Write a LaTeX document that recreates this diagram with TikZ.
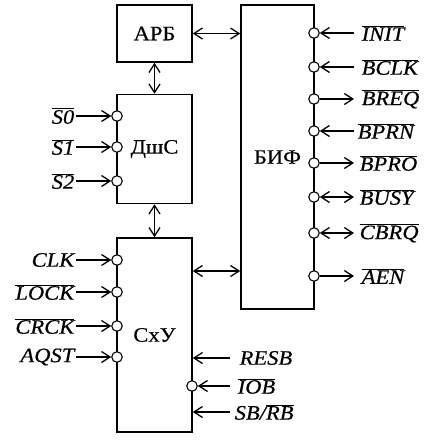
\documentclass[tikz,border=0pt]{standalone}
\usepackage{fontspec}
\setmainfont{Liberation Serif}[FakeStretch=1.1, FakeBold=0.4]
\usetikzlibrary{arrows.meta}
\newcommand{\ovl}[1]{$\overline{\mbox{\itshape #1}}$}
\begin{document}
\begin{tikzpicture}[x=1pt,y=-1pt,
  font=\fontsize{20.5}{24}\selectfont,
  blk/.style={draw, line width=1.6pt, inner sep=0pt},
  pinc/.style={circle, draw, fill=white, line width=1.1pt, minimum size=10.5pt, inner sep=0pt},
  lbl/.style={inner sep=1.5pt, font=\fontsize{20.5}{24}\selectfont\itshape},
  tip/.tip={Straight Barb[length=8.5pt,width=11pt,line width=1.3pt]},
  sig/.style={line width=1.1pt, -tip},
  sigb/.style={line width=1.1pt, tip-tip},
  bus/.style={line width=1.6pt, tip-tip}]
\useasboundingbox (0,0) rectangle (442,440);
% blocks
\node[blk, minimum width=75pt, minimum height=57pt] (arb) at (154.5,33.5) {АРБ};
\node[blk, minimum width=75pt, minimum height=109pt] (dsh) at (154.5,149) {ДшС};
\node[blk, minimum width=75pt, minimum height=194pt] (sxu) at (154.5,335) {СхУ};
\node[blk, minimum width=73pt, minimum height=304pt] (bif) at (277.5,157) {БИФ};
% buses
\draw[bus] (arb.east) -- (bif.west |- arb.east);
\draw[bus] (arb.south) -- (dsh.north);
\draw[bus] (dsh.south) -- (sxu.north);
\draw[bus] (sxu.east |- 0,271) -- (bif.west |- 0,271);
% DshC inputs
\foreach \n/\t/\y in {s0/S0/116, s1/S1/147, s2/S2/181}{
  \node[pinc] (c\n) at (117,\y) {};
  \node[lbl, anchor=east] (l\n) at (76,\y) {\ovl{\t}};
  \draw[sig] (l\n.east) -- (c\n.west);
}
% SxU inputs
\node[pinc] (cclk) at (117,260) {};
\node[lbl, anchor=east] (lclk) at (76,260) {CLK};
\draw[sig] (lclk.east) -- (cclk.west);
\node[pinc] (clock) at (117,292) {};
\node[lbl, anchor=east] (llock) at (76,292) {\ovl{LOCK}};
\draw[sig] (llock.east) -- (clock.west);
\node[pinc] (ccrck) at (117,326) {};
\node[lbl, anchor=east] (lcrck) at (76,326) {\ovl{CRCK}};
\draw[sig] (lcrck.east) -- (ccrck.west);
\node[pinc] (caqst) at (117,357) {};
\node[lbl, anchor=east] (laqst) at (76,357) {AQST};
\draw[sig] (laqst.east) -- (caqst.west);
% SxU right inputs
\node[lbl, anchor=west] (lresb) at (230,358) {\hspace{8pt}RESB};
\draw[sig] (lresb.west) -- (sxu.east |- lresb.west);
\node[pinc] (ciob) at (192,386) {};
\node[lbl, anchor=west] (liob) at (230,386) {\hspace{6pt}\ovl{IOB}};
\draw[sig] (liob.west) -- (ciob.east);
\node[lbl, anchor=west] (lsbrb) at (230,412) {\hspace{3pt}SB/\ovl{RB}};
\draw[sig] (lsbrb.west) -- (sxu.east |- lsbrb.west);
% BIF pins
\foreach \n/\y in {init/33, bclk/67, breq/99, bprn/131, bpro/163, busy/197, cbrq/233, aen/276}{
  \node[pinc] (c\n) at (314,\y) {};
}
\node[lbl, anchor=west] (linit) at (354,33) {\hspace{6pt}\ovl{INIT}};
\node[lbl, anchor=west] (lbclk) at (354,67) {\hspace{6pt}\ovl{BCLK}};
\node[lbl, anchor=west] (lbreq) at (354,99) {\hspace{6pt}\ovl{BREQ}};
\node[lbl, anchor=west] (lbprn) at (354,131) {\hspace{2pt}\ovl{BPRN}};
\node[lbl, anchor=west] (lbpro) at (354,163) {\hspace{4pt}\ovl{BPRO}};
\node[lbl, anchor=west] (lbusy) at (354,197) {\hspace{4pt}\ovl{BUSY}};
\node[lbl, anchor=west] (lcbrq) at (354,233) {\hspace{4pt}\ovl{CBRQ}};
\node[lbl, anchor=west] (laen) at (354,276) {\hspace{6pt}\ovl{AEN}};
\draw[sig] (linit.west) -- (cinit.east);
\draw[sig] (lbclk.west) -- (cbclk.east);
\draw[sig] (cbreq.east) -- (lbreq.west);
\draw[sig] (lbprn.west) -- (cbprn.east);
\draw[sig] (cbpro.east) -- (lbpro.west);
\draw[sigb] (cbusy.east) -- (lbusy.west);
\draw[sigb] (ccbrq.east) -- (lcbrq.west);
\draw[sig] (caen.east) -- (laen.west);
\end{tikzpicture}
\end{document}
